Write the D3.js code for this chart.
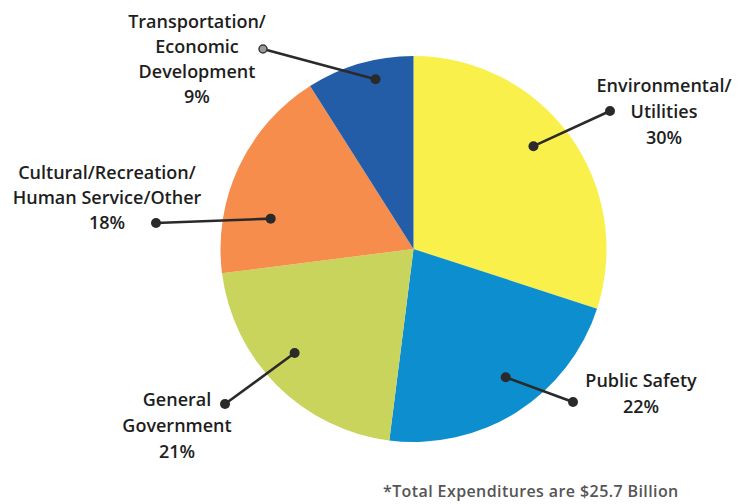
<!DOCTYPE html>
<html><head><meta charset="utf-8">
<script src="https://cdn.jsdelivr.net/npm/d3@7"></script>
<style>
html,body{margin:0;padding:0;background:#fff;}
svg text{font-family:"Open Sans",sans-serif;font-weight:600;fill:#1e1e1e;}
</style></head>
<body><svg id="c" width="755" height="504"></svg>
<script>
// Data
const categories = ["Environmental/Utilities","Public Safety","General Government","Cultural/Recreation/Human Service/Other","Transportation/Economic Development"];
const values = [30, 22, 21, 18, 9];
const labelLines = [
  ["Environmental/","Utilities","30%"],
  ["Public Safety","22%"],
  ["General","Government","21%"],
  ["Cultural/Recreation/","Human Service/Other","18%"],
  ["Transportation/","Economic","Development","9%"]
];
const colors = ["#f9f04c","#0d8ecf","#c9d45c","#f68d4d","#235da8"];
const footnote = "*Total Expenditures are $25.7 Billion";

// Layout (annotation placement)
const cx = 413.5, cy = 249, R = 193;
const inner = [ {a:49.4, r:158}, {a:144.3, r:158}, {a:228.8, r:158}, {a:282, r:146}, {a:347.4, r:174} ];
const outer = [ [610,111], [573,402], [225,404], [156,223], [263,49] ];
const textPos = [ {x:664, y:92, dy:26}, {x:641, y:387, dy:26}, {x:177, y:406, dy:26}, {x:107, y:179, dy:25}, {x:197, y:28, dy:25} ];

const svg = d3.select("#c");
const g = svg.append("g").attr("transform",`translate(${cx},${cy})`);
const pie = d3.pie().sort(null).value(d=>d)(values);
const arc = d3.arc().innerRadius(0).outerRadius(R);
g.selectAll("path.s").data(pie).join("path").attr("class","s")
  .attr("d",arc).attr("fill",(d,i)=>colors[i]);

const toXY = p => { const t = p.a*Math.PI/180; return [cx + p.r*Math.sin(t), cy - p.r*Math.cos(t)]; };

values.forEach((v,i)=>{
  const [x1,y1] = toXY(inner[i]);
  const [x2,y2] = outer[i];
  svg.append("line").attr("x1",x1).attr("y1",y1).attr("x2",x2).attr("y2",y2)
    .attr("stroke","#2a2a2a").attr("stroke-width",2.6);
  svg.append("circle").attr("cx",x1).attr("cy",y1).attr("r",5).attr("fill","#2a2a2a");
  if(i===4){
    svg.append("circle").attr("cx",x2).attr("cy",y2).attr("r",4).attr("fill","#9a9a9a").attr("stroke","#3a3a3a").attr("stroke-width",1.5);
  } else {
    svg.append("circle").attr("cx",x2).attr("cy",y2).attr("r",5).attr("fill","#2a2a2a");
  }
  const tp = textPos[i];
  const t = svg.append("text").attr("text-anchor","middle").attr("font-size",18);
  labelLines[i].forEach((s,k)=>{
    t.append("tspan").attr("x",tp.x).attr("y",tp.y + k*tp.dy).text(s);
  });
});

svg.append("text").attr("x",383).attr("y",497).attr("font-size",16)
  .attr("letter-spacing",0.4)
  .style("fill","#555").style("font-weight","600").text(footnote);
</script></body></html>
